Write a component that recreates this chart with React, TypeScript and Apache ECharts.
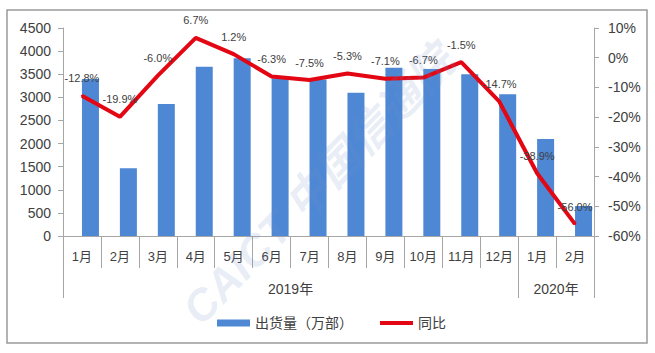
import React, { useEffect, useRef } from 'react';
import * as echarts from 'echarts';

const months = ['1月', '2月', '3月', '4月', '5月', '6月', '7月', '8月', '9月', '10月', '11月', '12月', '1月', '2月'];
const yearLabels = ['2019年', '2020年'];
const yearStarts = [0, 12];
const yearEnds = [11, 13];
const shipments = [3397, 1465, 2856, 3663, 3844, 3412, 3385, 3100, 3641, 3613, 3498, 3065, 2099, 649];
const yoy = [-12.8, -19.9, -6.0, 6.7, 1.2, -6.3, -7.5, -5.3, -7.1, -6.7, -1.5, -14.7, -38.9, -56.0];

const FONT = "'Liberation Sans', 'Noto Sans CJK SC', sans-serif";
const AXIS_COLOR = '#a6a6a6';
const TEXT_COLOR = '#404040';

export default function App() {
  const ref = useRef<HTMLDivElement>(null);
  useEffect(() => {
    const chart = echarts.init(ref.current!, null, { renderer: 'svg' });
    const baseGraphic: any[] = [
      {
        id: 'border',
        type: 'rect',
        shape: { x: 7, y: 10, width: 640, height: 333 },
        style: { fill: 'none', stroke: '#9a9a9a', lineWidth: 1.5 },
        silent: true,
        z: 0,
      },
      {
        id: 'watermark',
        type: 'text',
        x: 318,
        y: 185,
        rotation: 0.8,
        style: {
          text: 'CAICT 中国信通院',
          font: `bold italic 44px ${FONT}`,
          fill: 'rgba(110,140,200,0.16)',
          align: 'center',
          verticalAlign: 'middle',
        },
        silent: true,
        z: 100,
      },
    ];
    chart.setOption({
      animation: false,
      backgroundColor: '#ffffff',
      textStyle: { fontFamily: FONT },
      grid: { left: 63, right: 61, top: 28, bottom: 117 },
      legend: {
        left: 212,
        top: 311,
        itemWidth: 33,
        itemHeight: 7,
        itemGap: 27,
        textStyle: { fontSize: 14, color: TEXT_COLOR, fontFamily: FONT },
        data: [
          { name: '出货量（万部）', icon: 'rect' },
          { name: '同比', icon: 'path://M0,0H33V4H0Z' },
        ],
      },
      xAxis: {
        type: 'category',
        data: months,
        axisLine: { show: true, lineStyle: { color: AXIS_COLOR, width: 1 } },
        axisTick: { show: true, interval: 0, length: 32, lineStyle: { color: AXIS_COLOR } },
        axisLabel: { interval: 0, fontSize: 13, color: TEXT_COLOR, margin: 14, fontFamily: FONT },
        splitLine: { show: false },
      },
      yAxis: [
        {
          type: 'value',
          min: 0,
          max: 4500,
          interval: 500,
          axisLine: { show: true, lineStyle: { color: AXIS_COLOR } },
          axisTick: { show: true, length: 5, lineStyle: { color: AXIS_COLOR } },
          axisLabel: { fontSize: 14, color: TEXT_COLOR, margin: 12, fontFamily: FONT, formatter: (v: number) => String(v) },
          splitLine: { show: false },
        },
        {
          type: 'value',
          min: -60,
          max: 10,
          interval: 10,
          position: 'right',
          axisLine: { show: true, lineStyle: { color: AXIS_COLOR } },
          axisTick: { show: true, length: 5, lineStyle: { color: AXIS_COLOR } },
          axisLabel: { fontSize: 14, color: TEXT_COLOR, margin: 14, fontFamily: FONT, formatter: '{value}%' },
          splitLine: { show: false },
        },
      ],
      graphic: baseGraphic,
      series: [
        {
          name: 'spacer',
          type: 'bar',
          data: months.map(() => null),
          barWidth: 17,
          barGap: '0%',
        },
        {
          name: '出货量（万部）',
          type: 'bar',
          data: shipments,
          barWidth: 17,
          barGap: '0%',
          itemStyle: { color: '#4e88d4' },
        },
        {
          name: '同比',
          type: 'line',
          yAxisIndex: 1,
          data: yoy,
          symbol: 'circle',
          symbolSize: 2,
          itemStyle: { color: '#e30613' },
          lineStyle: { color: '#e30613', width: 4 },
          label: {
            show: true,
            position: 'top',
            distance: 11,
            fontSize: 11,
            color: TEXT_COLOR,
            fontFamily: FONT,
            formatter: (p: any) => `${Number(p.value).toFixed(1)}%`,
          },
          z: 5,
        },
      ],
    });

    // Year grouping row, positioned from the category axis scale
    const cx = (i: number) => chart.convertToPixel({ xAxisIndex: 0 }, i) as number;
    const bw = cx(1) - cx(0);
    const y0 = chart.convertToPixel({ yAxisIndex: 0 }, 0) as number;
    const yearGraphic: any[] = [];
    const bounds = new Set<number>();
    yearStarts.forEach((s, k) => {
      const left = cx(s) - bw / 2;
      const right = cx(yearEnds[k]) + bw / 2;
      bounds.add(Math.round(left * 10) / 10);
      bounds.add(Math.round(right * 10) / 10);
      yearGraphic.push({
        id: 'year-label-' + k,
        type: 'text',
        x: (left + right) / 2,
        y: y0 + 53,
        style: {
          text: yearLabels[k],
          font: `14px ${FONT}`,
          fill: TEXT_COLOR,
          align: 'center',
          verticalAlign: 'middle',
        },
        silent: true,
      });
    });
    Array.from(bounds).forEach((bx, k) => {
      yearGraphic.push({
        id: 'year-sep-' + k,
        type: 'line',
        shape: { x1: Math.round(bx) + 0.5, y1: y0, x2: Math.round(bx) + 0.5, y2: y0 + 62 },
        style: { stroke: AXIS_COLOR, lineWidth: 1 },
        silent: true,
      });
    });
    chart.setOption({ graphic: [...baseGraphic, ...yearGraphic] });

    return () => chart.dispose();
  }, []);
  return (
    <div
      ref={ref}
      style={{ position: 'fixed', left: 0, top: 0, width: 655, height: 353, background: '#fff' }}
    />
  );
}
